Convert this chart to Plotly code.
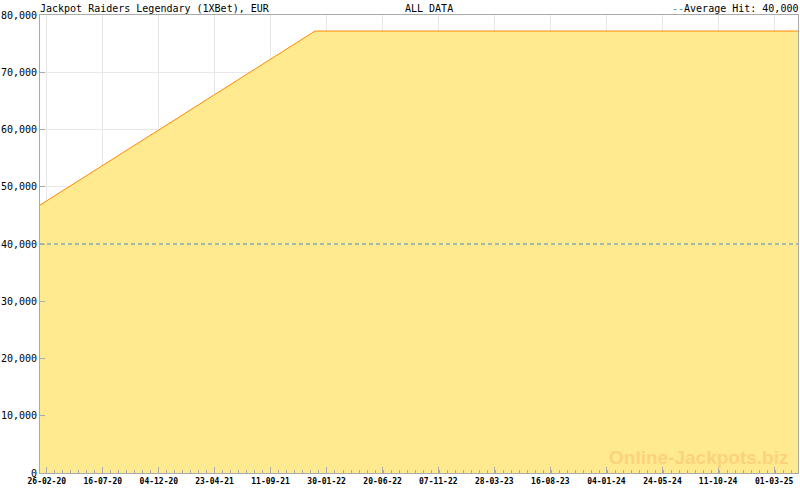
import plotly.graph_objects as go
import pandas as pd

# ---- data ----
dates = ["2020-02-09", "2022-01-01", "2025-04-30"]
values = [46800, 77200, 77200]
average_hit = 40000
tick_labels = ["26-02-20", "16-07-20", "04-12-20", "23-04-21", "11-09-21", "30-01-22",
               "20-06-22", "07-11-22", "28-03-23", "16-08-23", "04-01-24", "24-05-24",
               "11-10-24", "01-03-25"]
x_range = ["2020-02-09", "2025-04-30"]
title_left = "Jackpot Raiders Legendary (1XBet), EUR"
title_mid = "ALL DATA"
watermark = "Online-Jackpots.biz"

major = pd.to_datetime(tick_labels, format="%d-%m-%y")
step = (major[1] - major[0]) / 7
minor = []
t = major[0]
while t > pd.Timestamp(x_range[0]):
    t = t - step
t = t + step
while t <= pd.Timestamp(x_range[1]):
    minor.append(t)
    t = t + step

mono = "DejaVu Sans Mono"

fig = go.Figure()
fig.add_trace(go.Scatter(
    x=dates, y=values, mode="lines", fill="tozeroy",
    fillcolor="#FFEA8F", line=dict(color="#FF8800", width=1),
    hoverinfo="skip", showlegend=False))
fig.add_trace(go.Scatter(
    x=x_range, y=[average_hit, average_hit], mode="lines",
    line=dict(color="#3E8EC2", width=1, dash="4px,3px"),
    hoverinfo="skip", showlegend=False))

fig.update_layout(
    width=800, height=490, autosize=False,
    margin=dict(l=40, r=2, t=15, b=17, autoexpand=False),
    paper_bgcolor="white", plot_bgcolor="white",
    font=dict(family=mono, size=10, color="black"),
    xaxis=dict(
        type="date", range=x_range, automargin=False,
        tickmode="array", tickvals=list(major), ticktext=tick_labels,
        tickfont=dict(family=mono, size=8, color="black", weight="bold"),
        ticks="inside", ticklen=6, tickcolor="#AAAAAA", tickwidth=1,
        showgrid=True, gridcolor="#E8E8E8", gridwidth=1,
        showline=True, linecolor="#AAAAAA", linewidth=1, mirror=True,
        zeroline=False,
        minor=dict(tickmode="array", tickvals=minor, ticks="inside",
                   ticklen=3, tickcolor="#AAAAAA", showgrid=False),
    ),
    yaxis=dict(
        range=[0, 80000], dtick=10000, tickformat=",", automargin=False,
        tickfont=dict(family=mono, size=10, color="black"),
        ticks="inside", ticklen=5, tickcolor="#AAAAAA",
        showgrid=True, gridcolor="#E8E8E8", gridwidth=1,
        showline=True, linecolor="#AAAAAA", linewidth=1, mirror=True,
        zeroline=False,
    ),
    annotations=[
        dict(text=title_left, xref="paper", yref="paper", x=0, y=1,
             xanchor="left", yanchor="bottom", showarrow=False,
             font=dict(family=mono, size=10), yshift=-1, xshift=-2),
        dict(text=title_mid, xref="paper", yref="paper", x=0.513, y=1,
             xanchor="center", yanchor="bottom", showarrow=False,
             font=dict(family=mono, size=10), yshift=-1),
        dict(text="<span style='color:#3E8EC2'>--</span>Average Hit: 40,000",
             xref="paper", yref="paper", x=1, y=1,
             xanchor="right", yanchor="bottom", showarrow=False,
             font=dict(family=mono, size=10), yshift=-1, xshift=2),
        dict(text="<b>" + watermark + "</b>", xref="paper", yref="paper",
             x=0.99, y=0.0, xanchor="right", yanchor="bottom", showarrow=False,
             font=dict(family="Liberation Sans", size=19, color="#FCD27C"),
             yshift=3),
    ],
)

fig.write_html("out.html", config={"responsive": False, "displayModeBar": False},
               post_script="document.body.style.margin='0px';document.body.style.overflow='hidden';")
